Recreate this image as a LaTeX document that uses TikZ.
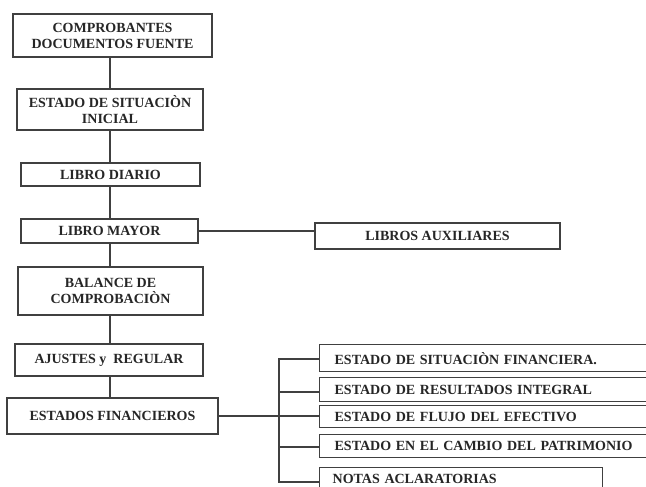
\documentclass[tikz,border=0pt]{standalone}
\usepackage{fontspec}
\setmainfont{Liberation Serif}
\begin{document}
\begin{tikzpicture}[x=1pt,y=-1pt,
  box/.style={draw=black!75, line width=1.3pt, fill=white, inner sep=0pt, align=center,
    font=\fontsize{14}{16}\selectfont\bfseries, text=black!85},
  rbox/.style={box, anchor=north west, align=left, text width=310pt, inner xsep=13pt},
  conn/.style={draw=black!75, line width=1.2pt}]
\useasboundingbox (0,0) rectangle (646,487);
\clip (0,0) rectangle (646,487);
\node[box, minimum width=199pt, minimum height=43pt] (b1) at (112.5,35.5) {COMPROBANTES\\DOCUMENTOS FUENTE};
\node[box, minimum width=186pt, minimum height=41pt] (b2) at (110,109.5) {ESTADO DE SITUACIÒN\\INICIAL};
\node[box, minimum width=179pt, minimum height=23pt] (b3) at (110.5,174.5) {LIBRO DIARIO};
\node[box, minimum width=177pt, minimum height=24pt] (b4) at (109.5,231) {LIBRO MAYOR};
\node[box, minimum width=185pt, minimum height=48pt] (b5) at (110.5,291) {BALANCE DE\\COMPROBACIÒN};
\node[box, minimum width=188pt, minimum height=32pt] (b6) at (109,360) {AJUSTES y\ \ REGULAR};
\node[box, minimum width=211pt, minimum height=36pt] (b7) at (112.5,416) {ESTADOS FINANCIEROS};
\node[box, minimum width=245pt, minimum height=26pt] (aux) at (437.5,236) {LIBROS AUXILIARES};
\coordinate (sp) at (110,0);
\coordinate (bus) at (279,0);
\node[rbox, minimum width=340pt, minimum height=27pt] (r1) at (319,344) {ESTADO DE SITUACIÒN FINANCIERA.};
\node[rbox, minimum width=340pt, minimum height=24pt] (r2) at (319,377) {ESTADO DE RESULTADOS INTEGRAL};
\node[rbox, minimum width=340pt, minimum height=22pt] (r3) at (319,405) {ESTADO DE FLUJO DEL EFECTIVO};
\node[rbox, minimum width=340pt, minimum height=23pt] (r4) at (319,434) {ESTADO EN EL CAMBIO DEL PATRIMONIO};
\node[rbox, text width=257pt, minimum width=283pt, minimum height=23pt] (r5) at (319,467) {NOTAS ACLARATORIAS};
\draw[draw=black!75, line width=1.3pt] (r5.south west) -- ++(0,10);
\draw[draw=black!75, line width=1.3pt] (r5.south east) -- ++(0,10);
\draw[conn] (b1.south -| sp) -- (b2.north -| sp);
\draw[conn] (b2.south -| sp) -- (b3.north -| sp);
\draw[conn] (b3.south -| sp) -- (b4.north -| sp);
\draw[conn] (b4.south -| sp) -- (b5.north -| sp);
\draw[conn] (b5.south -| sp) -- (b6.north -| sp);
\draw[conn] (b6.south -| sp) -- (b7.north -| sp);
\draw[conn] (b4.east) -- (aux.west |- b4.east);
\draw[conn] (b7.east) -- (r3.west |- b7.east);
\draw[conn] (r1.west |- 0,359) -| (bus |- 0,482) -- (r5.west |- 0,482);
\draw[conn] (bus |- 0,392) -- (r2.west |- 0,392);
\draw[conn] (bus |- 0,447) -- (r4.west |- 0,447);
\end{tikzpicture}
\end{document}
